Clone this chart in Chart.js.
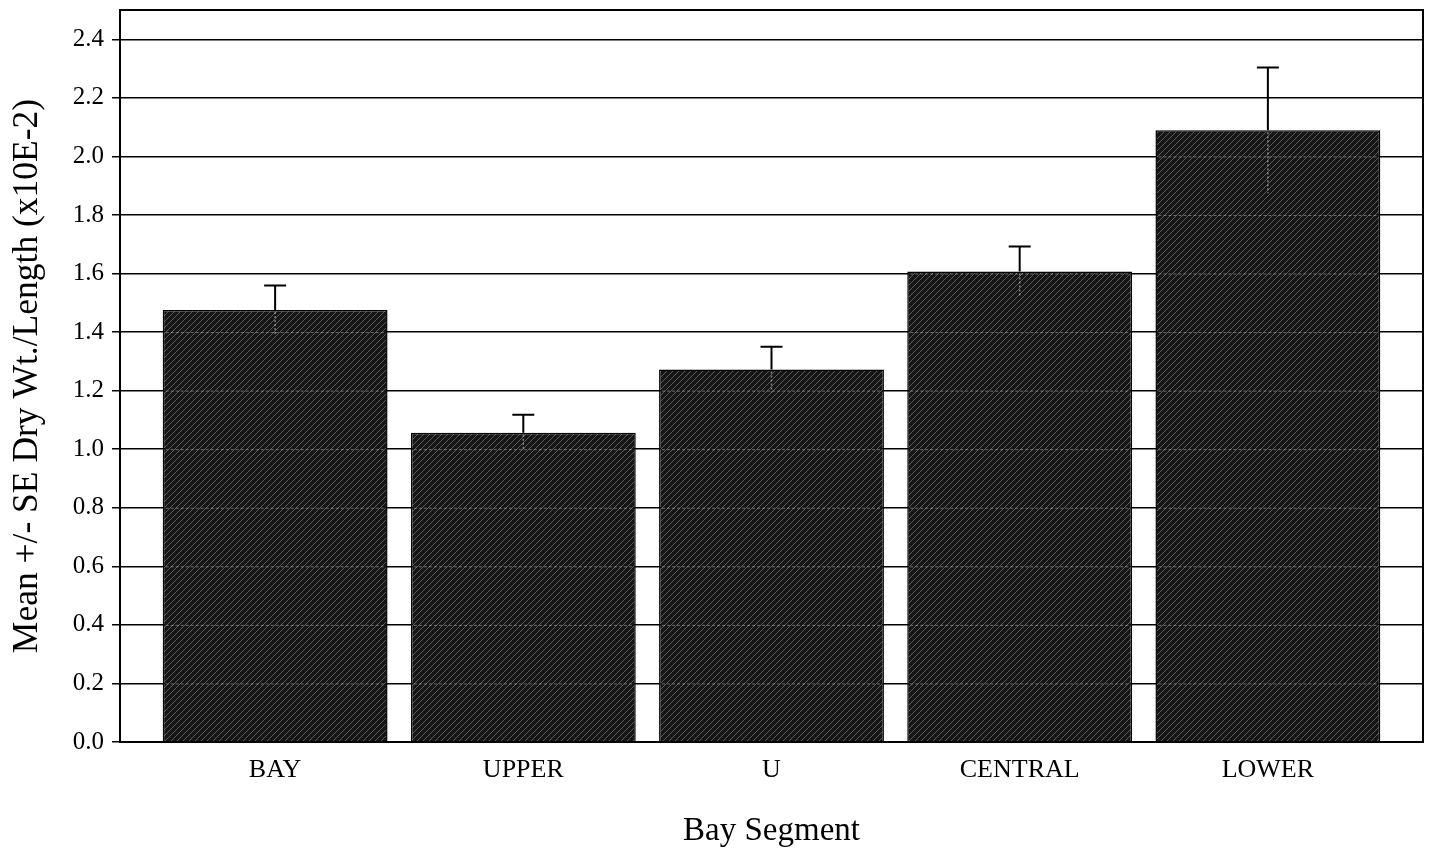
<!DOCTYPE html>
<html>
<head>
<meta charset="utf-8">
<script src="https://cdn.jsdelivr.net/npm/chart.js@4.4.1/dist/chart.umd.min.js"></script>
<style>
html,body{margin:0;padding:0;background:#fff;}
#wrap{width:1429px;height:854px;position:relative;}
</style>
</head>
<body>
<div id="wrap"><canvas id="c" width="1429" height="854"></canvas></div>
<script>
const categories = ["BAY", "UPPER", "U", "CENTRAL", "LOWER"];
const means = [1.475, 1.056, 1.272, 1.607, 2.089];
const se = [0.084, 0.062, 0.078, 0.085, 0.215];
const yTicks = [0.0, 0.2, 0.4, 0.6, 0.8, 1.0, 1.2, 1.4, 1.6, 1.8, 2.0, 2.2, 2.4];
const yTitle = "Mean +/- SE Dry Wt./Length (x10E-2)";
const xTitle = "Bay Segment";

const FONT = "'Liberation Serif', 'Times New Roman', serif";

function makePattern() {
  const p = document.createElement('canvas');
  p.width = 6; p.height = 6;
  const g = p.getContext('2d');
  g.fillStyle = '#161616';
  g.fillRect(0, 0, 6, 6);
  g.strokeStyle = 'rgba(160,160,160,0.5)';
  g.lineWidth = 1;
  g.beginPath();
  g.moveTo(0, 6); g.lineTo(6, 0);
  g.moveTo(-3, 3); g.lineTo(3, -3);
  g.moveTo(3, 9); g.lineTo(9, 3);
  g.stroke();
  return document.getElementById('c').getContext('2d').createPattern(p, 'repeat');
}

const framePlugin = {
  id: 'frame',
  afterDatasetsDraw(chart) {
    const ctx = chart.ctx;
    const ys = chart.scales.y;
    const meta = chart.getDatasetMeta(0);
    ctx.save();
    meta.data.forEach((bar) => {
      const left = bar.x - bar.width / 2 + 3, right = bar.x + bar.width / 2 - 3;
      yTicks.forEach(t => {
        const py = ys.getPixelForValue(t);
        if (t > 0 && py > bar.y + 2) {
          ctx.strokeStyle = 'rgba(210,210,210,0.45)';
          ctx.lineWidth = 1;
          ctx.setLineDash([3, 2]);
          ctx.beginPath();
          ctx.moveTo(left, py + 0.5); ctx.lineTo(right, py + 0.5);
          ctx.stroke();
        }
      });
    });
    ctx.setLineDash([]);
    meta.data.forEach((bar, i) => {
      const x = bar.x;
      const yTop = ys.getPixelForValue(means[i] + se[i]);
      const yMean = ys.getPixelForValue(means[i]);
      const yLow = ys.getPixelForValue(means[i] - se[i]);
      ctx.strokeStyle = '#000';
      ctx.lineWidth = 2;
      ctx.beginPath();
      ctx.moveTo(x, yMean); ctx.lineTo(x, yTop);
      ctx.moveTo(x - 11, yTop); ctx.lineTo(x + 11, yTop);
      ctx.stroke();
      ctx.strokeStyle = 'rgba(200,200,200,0.6)';
      ctx.lineWidth = 1.5;
      ctx.setLineDash([2, 2]);
      ctx.beginPath();
      ctx.moveTo(x, yMean + 2); ctx.lineTo(x, yLow);
      ctx.stroke();
      ctx.setLineDash([]);
    });
    const a = chart.chartArea;
    ctx.strokeStyle = '#000';
    ctx.lineWidth = 2;
    ctx.strokeRect(a.left, a.top, a.right - a.left, a.bottom - a.top);
    ctx.restore();
  }
};

new Chart(document.getElementById('c'), {
  type: 'bar',
  data: {
    datasets: [{
      data: categories.map((c, i) => ({ x: i, y: means[i] })),
      backgroundColor: makePattern(),
      borderColor: '#000',
      borderWidth: 1.5,
      categoryPercentage: 1.0,
      barPercentage: 0.906
    }]
  },
  options: {
    responsive: false,
    animation: false,
    devicePixelRatio: 1,
    layout: { padding: { left: 0, right: 6, top: 10, bottom: 0 } },
    plugins: { legend: { display: false }, tooltip: { enabled: false } },
    scales: {
      x: {
        type: 'linear',
        offset: false,
        min: -0.625,
        max: 4.625,
        afterBuildTicks: (s) => { s.ticks = categories.map((_, i) => ({ value: i })); },
        afterFit: (s) => { s.height = 112; s.paddingLeft = 0; s.paddingRight = 0; },
        grid: { display: false, drawTicks: false, offset: false },
        border: { display: true, color: '#000', width: 2 },
        ticks: {
          callback: (v) => categories[v] !== undefined ? categories[v] : '',
          color: '#000',
          font: { family: FONT, size: 26 },
          padding: 13,
          maxRotation: 0,
          autoSkip: false
        },
        title: {
          display: true,
          text: xTitle,
          color: '#000',
          font: { family: FONT, size: 33 },
          padding: { top: 0, bottom: 3 }
        }
      },
      y: {
        min: 0,
        max: 2.5,
        afterBuildTicks: (s) => { s.ticks = yTicks.map(v => ({ value: v })); },
        afterFit: (s) => { s.width = 120; s.paddingTop = 0; s.paddingBottom = 0; },
        grid: { color: '#000', lineWidth: 1.5, tickLength: 8, drawTicks: true, tickColor: '#000' },
        border: { display: true, color: '#000', width: 2 },
        ticks: {
          callback: (v) => Number(v).toFixed(1),
          color: '#000',
          font: { family: FONT, size: 25 },
          padding: 8
        },
        title: {
          display: true,
          text: yTitle,
          color: '#000',
          font: { family: FONT, size: 35.5 },
          padding: { top: 6, bottom: 0 }
        }
      }
    }
  },
  plugins: [framePlugin]
});
</script>
</body>
</html>
